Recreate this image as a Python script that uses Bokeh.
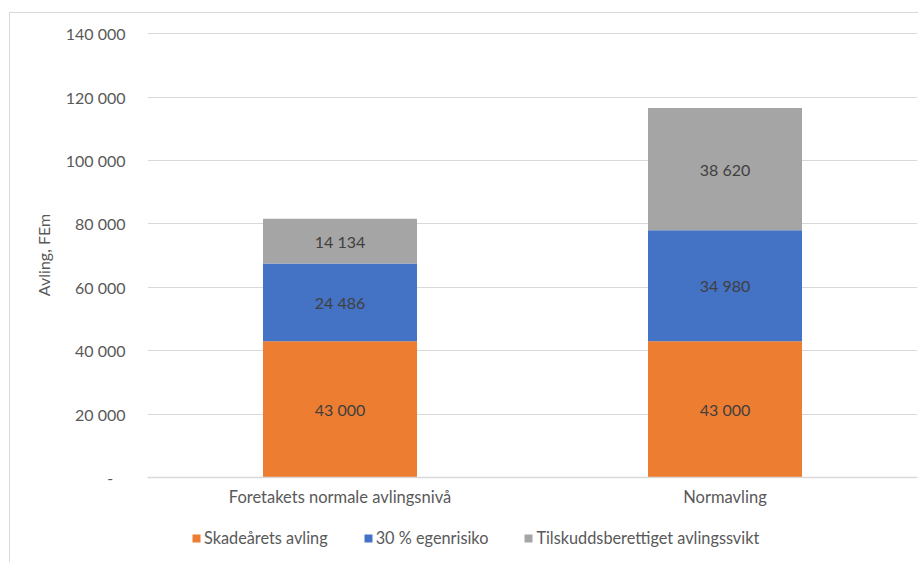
from bokeh.plotting import figure
from bokeh.layouts import column
from bokeh.models import (Range1d, FactorRange, FixedTicker, ColumnDataSource, LabelSet,
                          Legend, LegendItem)
from bokeh.core.properties import value
from bokeh.embed import file_html
from bokeh.resources import INLINE

categories = ["Foretakets normale avlingsnivå", "Normavling"]
series_names = ["Skadeårets avling", "30 % egenrisiko", "Tilskuddsberettiget avlingssvikt"]
skadearets_avling = [43000, 43000]
egenrisiko = [24486, 34980]
tilskudd = [14134, 38620]
colors = ["#ED7D31", "#4472C4", "#A5A5A5"]
y_ticks = [0, 20000, 40000, 60000, 80000, 100000, 120000, 140000]

FONT = "Lato"
FS = "16px"
W = 908

def fmt(v):
    return f"{v:,}".replace(",", " ")

keys = ["s0", "s1", "s2"]
data = {"cat": categories, "s0": skadearets_avling, "s1": egenrisiko, "s2": tilskudd}
src = ColumnDataSource(data)

p = figure(width=W, height=498, x_range=FactorRange(*categories, range_padding=0),
           y_range=Range1d(0, 140400), output_backend="svg", toolbar_location=None,
           min_border_left=137, min_border_right=1, min_border_top=19, min_border_bottom=34)
p.outline_line_color = None
p.background_fill_color = "white"
p.border_fill_color = "white"

renderers = p.vbar_stack(keys, x="cat", width=0.4, color=colors, source=src, line_color=None)

# data labels
series = [skadearets_avling, egenrisiko, tilskudd]
lx, ly, lt = [], [], []
for ci, c in enumerate(categories):
    base = 0
    for s in series:
        v = s[ci]
        lx.append(c)
        ly.append(base + v / 2)
        lt.append(fmt(v))
        base += v
lsrc = ColumnDataSource(dict(x=lx, y=ly, t=lt))
p.add_layout(LabelSet(x="x", y="y", text="t", source=lsrc, text_align="center",
                      text_baseline="middle", text_font=value(FONT), text_font_size=FS,
                      text_color="#404040"))

# axes
p.yaxis.ticker = FixedTicker(ticks=y_ticks)
overrides = {t: fmt(t) for t in y_ticks}
overrides[0] = "-\u00a0\u00a0\u00a0"
p.yaxis.major_label_overrides = overrides
p.yaxis.axis_line_color = None
p.yaxis.major_tick_line_color = None
p.yaxis.minor_tick_line_color = None
p.yaxis.major_label_standoff = 16
p.yaxis.major_label_text_font = FONT
p.yaxis.major_label_text_font_size = FS
p.yaxis.major_label_text_color = "#595959"
p.yaxis.axis_label = "Avling, FEm"
p.yaxis.axis_label_standoff = 10
p.yaxis.axis_label_text_font = FONT
p.yaxis.axis_label_text_font_size = FS
p.yaxis.axis_label_text_font_style = "normal"
p.yaxis.axis_label_text_color = "#595959"

p.xaxis.axis_line_color = "#D9D9D9"
p.xaxis.axis_line_width = 1.5
p.xaxis.major_tick_line_color = None
p.xaxis.minor_tick_line_color = None
p.xaxis.major_label_standoff = 3
p.xaxis.major_label_text_font = FONT
p.xaxis.major_label_text_font_size = "16.5px"
p.xaxis.major_label_text_color = "#595959"

p.xgrid.grid_line_color = None
p.ygrid.grid_line_color = "#D9D9D9"
p.ygrid.grid_line_width = 1

# legend strip below the chart (hidden copies of the series provide the legend swatches)
lf = figure(width=W, height=51, x_range=FactorRange(*categories, range_padding=0),
            y_range=Range1d(0, 1), output_backend="svg", toolbar_location=None,
            x_axis_location=None, y_axis_location=None,
            min_border_left=0, min_border_right=0, min_border_top=0, min_border_bottom=0)
lf.outline_line_color = None
lf.xgrid.grid_line_color = None
lf.ygrid.grid_line_color = None
leg_r = lf.vbar_stack(keys, x="cat", width=0.4, color=colors, source=src, line_color=None)
for r in leg_r:
    r.visible = False
legend = Legend(items=[LegendItem(label=n, renderers=[r]) for n, r in zip(series_names, leg_r)],
                orientation="horizontal", location=(44, 15), padding=5, spacing=35, margin=0,
                glyph_width=10, glyph_height=10, label_standoff=3,
                label_text_font=FONT, label_text_font_size="16.3px", label_text_color="#595959",
                border_line_color=None, background_fill_alpha=0)
lf.add_layout(legend, "center")

layout = column(p, lf, spacing=0)
layout.styles = {"margin-left": "9px", "margin-top": "12px",
                 "border-left": "1px solid #D9D9D9", "border-top": "1px solid #D9D9D9"}

open("out.html", "w").write(file_html(layout, INLINE))
